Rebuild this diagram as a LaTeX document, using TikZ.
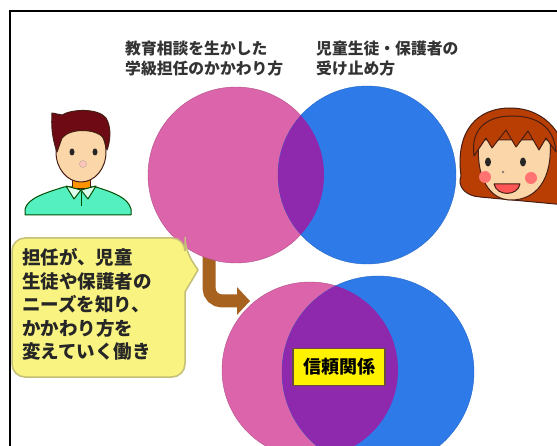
\documentclass[tikz,border=0pt]{standalone}
\usepackage{fontspec}
\newfontfamily\jp{Noto Sans CJK JP}
\usetikzlibrary{arrows.meta, positioning}

\definecolor{vennpink}{RGB}{220,100,170}
\definecolor{vennblue}{RGB}{45,122,232}
\definecolor{vennpurple}{RGB}{142,40,172}
\definecolor{notefill}{RGB}{249,243,130}
\definecolor{noteedge}{RGB}{196,190,120}
\definecolor{arrowbrown}{RGB}{166,98,30}
\definecolor{shirtgreen}{RGB}{84,240,192}
\definecolor{collar}{RGB}{222,252,236}
\definecolor{skin}{RGB}{250,214,168}
\definecolor{boyhair}{RGB}{110,10,20}
\definecolor{girlhair}{RGB}{184,62,4}
\definecolor{outline}{RGB}{70,30,20}

\begin{document}
\begin{tikzpicture}[x=1pt, y=-1pt,
    caption/.style={font=\jp\bfseries\fontsize{15.8}{19.5}\selectfont, text=black!80,
                    align=left, inner sep=0pt, anchor=north west},
    notetext/.style={font=\jp\bfseries\fontsize{18.5}{23.6}\selectfont, text=black!85,
                    align=left, inner sep=0pt, anchor=north west},
    keyword/.style={font=\jp\bfseries\fontsize{18}{20}\selectfont, fill=yellow,
                    draw=outline!80, line width=1.5pt, minimum width=92pt, minimum height=37pt},
    part/.style={draw=outline, line width=1pt, line join=round}]
    \useasboundingbox (0,0) rectangle (557,446);

    % Frame
    \draw[line width=2.6pt] (10,446) -- (10,11) -- (557,11);

    % Captions
    \node[caption] (teacher) at (125,41) {教育相談を生かした\\学級担任のかかわり方};
    \node[caption] (family) at (316,41) {児童生徒・保護者の\\受け止め方};

    % Arrow between the two diagrams
    \coordinate (bend from) at (209,256);
    \coordinate (bend to) at (250,301);
    \draw[arrowbrown, line width=13pt, rounded corners=13pt,
          -{Triangle[length=13pt, width=27pt]}] (bend from) |- (bend to);

    % Upper circles
    \fill[vennpink, draw=vennpink!80!black] (236,175) circle[radius=88];
    \fill[vennblue, draw=vennblue!85!black] (367,175) circle[radius=89];
    \begin{scope}
        \clip (236,175) circle[radius=88];
        \fill[vennpurple] (367,175) circle[radius=89];
    \end{scope}

    % Lower circles
    \fill[vennpink, draw=vennpink!80!black] (310,370) circle[radius=88];
    \fill[vennblue, draw=vennblue!85!black] (378,372) circle[radius=96];
    \begin{scope}
        \clip (310,370) circle[radius=88];
        \fill[vennpurple] (378,372) circle[radius=96];
    \end{scope}
    \node[keyword] (trust) at (339,367) {信頼関係};

    % Speech bubble
    \draw[fill=notefill, draw=noteedge, line width=1.5pt, rounded corners=13pt]
        (100,377) -- (12,377) -- (12,238) -- (185,238) -- (185,250)
        [sharp corners] -- (198,270) -- (185,292)
        [rounded corners=13pt] -- (185,377) -- cycle;
    \node[notetext] (note) at (22,248)
        {担任が、児童\\生徒や保護者の\\ニーズを知り、\\かかわり方を\\変えていく働き};

    % Teacher
    \draw[part, draw=green!30!black, fill=shirtgreen]
        (25,215) -- (25,209) .. controls (28,198) and (45,193) .. (64,187)
        -- (96,187) .. controls (115,193) and (128,198) .. (131,209) -- (131,215) -- cycle;
    \draw[part, fill=orange!85!yellow] (72,176) rectangle (90,189);
    \draw[part, draw=green!30!black, fill=collar] (66,186) -- (81,190) -- (74,199) -- cycle;
    \draw[part, draw=green!30!black, fill=collar] (96,186) -- (81,190) -- (88,199) -- cycle;
    \draw[green!30!black, line width=1pt] (81,192) -- (81,206);
    \draw[part, fill=skin] (81,152) ellipse[x radius=25, y radius=30];
    \draw[part, fill=boyhair]
        (57,152) .. controls (50,132) and (52,118) .. (52,113) -- (62,115)
        .. controls (72,109) and (98,108) .. (106,118)
        .. controls (112,128) and (110,142) .. (107,150)
        -- (104,138) .. controls (95,128) and (70,128) .. (62,138) -- cycle;
    \fill[black!85] (72,152) ellipse[x radius=2.5, y radius=3.5];
    \fill[black!85] (95,152) ellipse[x radius=2.5, y radius=3.5];
    \draw[outline!40, fill=pink!70!skin] (83,164) circle[radius=3.5];

    % Girl
    \begin{scope}
        \clip (440,100) rectangle (557,210);
        \draw[part, fill=girlhair]
            (480,197) .. controls (465,196) and (457,186) .. (461,176)
            .. controls (455,130) and (478,108) .. (510,108)
            .. controls (545,108) and (570,135) .. (566,175) -- (566,205) -- cycle;
        \draw[part, fill=skin]
            (479,140) .. controls (475,178) and (490,200) .. (511,200)
            .. controls (536,200) and (553,180) .. (550,140) -- cycle;
        \draw[part, fill=girlhair]
            (474,156) .. controls (470,126) and (490,116) .. (512,116)
            .. controls (536,116) and (554,126) .. (556,152)
            -- (546,138) -- (539,150) -- (528,131) -- (516,147)
            -- (506,130) -- (492,148) -- (486,138) -- cycle;
        \fill[black!85] (488,162) ellipse[x radius=3, y radius=4.5];
        \fill[black!85] (523,162) ellipse[x radius=3, y radius=4.5];
        \fill[red!40!pink] (485,177) circle[radius=6];
        \fill[red!40!pink] (531,178) circle[radius=6];
        \fill[outline!60] (503,172) circle[radius=1.3];
        \draw[part, fill=red!55!pink] (494,184) -- (520,184)
            .. controls (518,196) and (497,197) .. (494,184) -- cycle;
    \end{scope}
\end{tikzpicture}
\end{document}
